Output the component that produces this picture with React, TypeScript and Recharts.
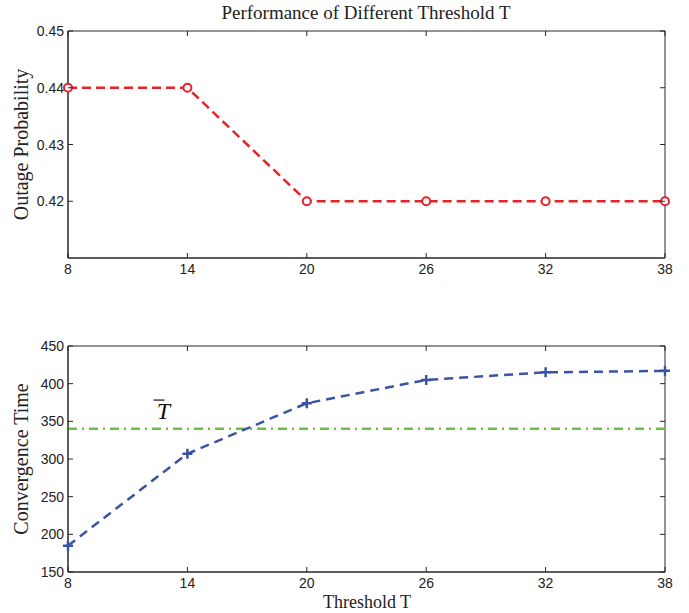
import React from 'react';
import { LineChart, Line, XAxis, YAxis, ReferenceLine, ReferenceArea, ReferenceDot } from 'recharts';

const thresholds = [8, 14, 20, 26, 32, 38];
const outage = [0.44, 0.44, 0.42, 0.42, 0.42, 0.42];
const convergence = [185, 307, 374, 405, 415, 417];
const tBar = 340;
const outageTicks = [0.42, 0.43, 0.44, 0.45];
const convTicks = [150, 200, 250, 300, 350, 400, 450];
const tBarLabelPos = { x: 12.8, y: 353 };

const topData = thresholds.map((t, i) => ({ t, v: outage[i] }));
const botData = thresholds.map((t, i) => ({ t, v: convergence[i] }));

const AX = '#262626';
const RED = '#e8222a';
const BLUE = '#3a54a4';
const GREEN = '#6cbf48';
const W = 689;
const PLOT_W = 597;
const TOP_PLOT_H = 227;
const BOT_PLOT_H = 226;
const SANS = '"Liberation Sans", Arial, sans-serif';
const SERIF = '"Liberation Serif", "Times New Roman", serif';

const makeXTick = (plotH: number) => (props: any) => {
  const { x, y, payload } = props;
  return (
    <g>
      <line x1={x} x2={x} y1={y} y2={y - 5} stroke={AX} strokeWidth={1} />
      <line x1={x} x2={x} y1={y - plotH} y2={y - plotH + 5} stroke={AX} strokeWidth={1} />
      <text x={x} y={y + 16} textAnchor="middle" fontFamily={SANS} fontSize={14} fill="#222">
        {payload.value}
      </text>
    </g>
  );
};

const makeYTick = (fmt: (v: number) => string) => (props: any) => {
  const { x, y, payload } = props;
  return (
    <g>
      <line x1={x} x2={x + 5} y1={y} y2={y} stroke={AX} strokeWidth={1} />
      <line x1={x + PLOT_W} x2={x + PLOT_W - 5} y1={y} y2={y} stroke={AX} strokeWidth={1} />
      <text x={x - 4} y={y + 5} textAnchor="end" fontFamily={SANS} fontSize={14} fill="#222">
        {fmt(payload.value)}
      </text>
    </g>
  );
};

const yLabel = (text: string) => (props: any) => {
  const { viewBox } = props;
  const cy = viewBox.y + viewBox.height / 2;
  return (
    <text
      x={28}
      y={cy}
      transform={`rotate(-90, 28, ${cy})`}
      textAnchor="middle"
      fontFamily={SERIF}
      fontSize={20}
      fill="#222"
    >
      {text}
    </text>
  );
};

const CircleDot = (props: any) => {
  const { cx, cy } = props;
  return <circle cx={cx} cy={cy} r={4} fill="#fff" stroke={RED} strokeWidth={2} />;
};

const PlusDot = (props: any) => {
  const { cx, cy } = props;
  return (
    <path d={`M${cx - 5},${cy}h10M${cx},${cy - 5}v10`} stroke={BLUE} strokeWidth={2.5} fill="none" />
  );
};

const TBarShape = (props: any) => {
  const { cx, cy } = props;
  return (
    <g>
      <line x1={cx - 10} x2={cx + 1} y1={cy - 19} y2={cy - 19} stroke="#111" strokeWidth={1.2} />
      <text x={cx} y={cy} textAnchor="middle" fontFamily={SERIF} fontStyle="italic" fontSize={24} fill="#111">
        T
      </text>
    </g>
  );
};

export default function App() {
  return (
    <div style={{ position: 'absolute', left: 0, top: 0, width: W, height: 613, background: '#fff' }}>
      <div style={{ position: 'absolute', left: 0, top: 0 }}>
        <LineChart width={W} height={300} data={topData} margin={{ top: 31, right: 24, bottom: 12, left: 0 }}>
          <ReferenceArea x1={8} x2={38} y1={0.41} y2={0.45} fill="none" fillOpacity={0} stroke={AX} strokeWidth={1} />
          <XAxis
            dataKey="t"
            type="number"
            domain={[8, 38]}
            ticks={thresholds}
            height={30}
            tickSize={0}
            tickMargin={0}
            axisLine={{ stroke: AX }}
            tickLine={false}
            tick={makeXTick(TOP_PLOT_H)}
            interval={0}
          />
          <YAxis
            type="number"
            domain={[0.41, 0.45]}
            ticks={outageTicks}
            width={68}
            tickSize={0}
            tickMargin={0}
            axisLine={{ stroke: AX }}
            tickLine={false}
            tick={makeYTick((v) => v.toFixed(2))}
            interval={0}
            label={{ content: yLabel('Outage Probability') } as any}
          />
          <Line
            dataKey="v"
            type="linear"
            stroke={RED}
            strokeWidth={2.5}
            strokeDasharray="9 5"
            dot={<CircleDot />}
            isAnimationActive={false}
          />
        </LineChart>
      </div>
      <div style={{ position: 'absolute', left: 0, top: 300 }}>
        <LineChart width={W} height={313} data={botData} margin={{ top: 46, right: 24, bottom: 11, left: 0 }}>
          <ReferenceArea x1={8} x2={38} y1={150} y2={450} fill="none" fillOpacity={0} stroke={AX} strokeWidth={1} />
          <XAxis
            dataKey="t"
            type="number"
            domain={[8, 38]}
            ticks={thresholds}
            height={30}
            tickSize={0}
            tickMargin={0}
            axisLine={{ stroke: AX }}
            tickLine={false}
            tick={makeXTick(BOT_PLOT_H)}
            interval={0}
          />
          <YAxis
            type="number"
            domain={[150, 450]}
            ticks={convTicks}
            width={68}
            tickSize={0}
            tickMargin={0}
            axisLine={{ stroke: AX }}
            tickLine={false}
            tick={makeYTick((v) => String(v))}
            interval={0}
            label={{ content: yLabel('Convergence Time') } as any}
          />
          <ReferenceLine y={tBar} stroke={GREEN} strokeWidth={2.5} strokeDasharray="9 5 2 5" />
          <ReferenceDot x={tBarLabelPos.x} y={tBarLabelPos.y} r={0} shape={<TBarShape />} />
          <Line
            dataKey="v"
            type="linear"
            stroke={BLUE}
            strokeWidth={2.5}
            strokeDasharray="9 6"
            dot={<PlusDot />}
            isAnimationActive={false}
          />
        </LineChart>
      </div>
      <svg width={W} height={613} style={{ position: 'absolute', left: 0, top: 0, pointerEvents: 'none' }}>
        <text x={366} y={19} textAnchor="middle" fontFamily={SERIF} fontSize={19} fill="#222">
          Performance of Different Threshold T
        </text>
        <text x={367} y={608} textAnchor="middle" fontFamily={SERIF} fontSize={18} fill="#222">
          Threshold T
        </text>
      </svg>
    </div>
  );
}
